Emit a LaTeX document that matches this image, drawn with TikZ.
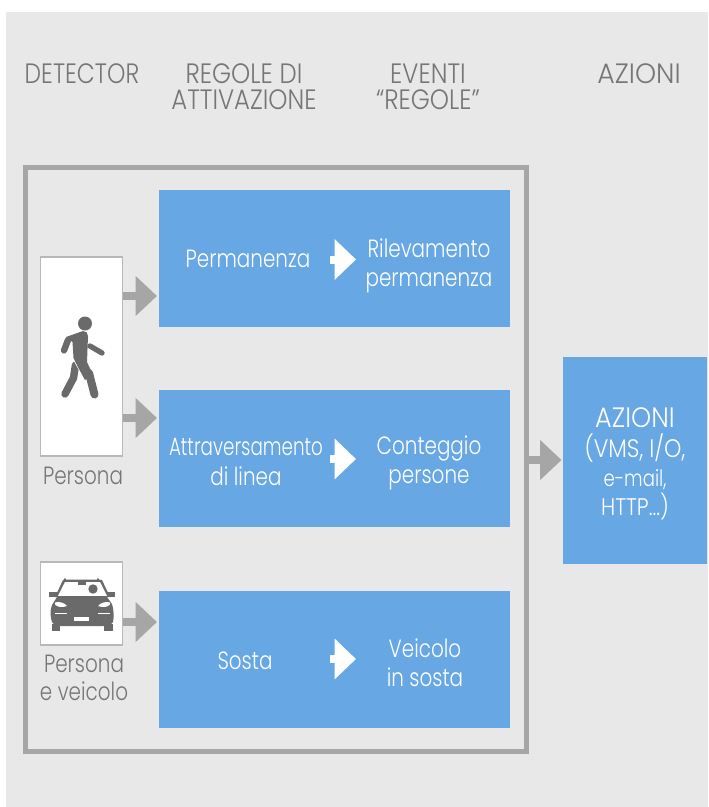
\documentclass[tikz,border=0pt]{standalone}
\usepackage{fontspec}
\setmainfont{Poppins Light}[FakeStretch=0.80]
\newfontfamily\capsf{Poppins Light}[FakeStretch=0.87]
\usetikzlibrary{arrows.meta}
\definecolor{bg}{HTML}{E8E8E8}
\definecolor{fr}{HTML}{A6A6A6}
\definecolor{bl}{HTML}{67A8E4}
\definecolor{tx}{HTML}{767676}
\definecolor{ic}{HTML}{6A6A6A}
\tikzset{
 x=0.75pt,y=-0.75pt,
 bluebox/.style={fill=bl,draw=none,inner sep=0,outer sep=0,minimum width=351*0.75pt,minimum height=137*0.75pt,anchor=north west},
 detbox/.style={fill=white,draw=fr!80,line width=1.1pt,inner sep=0,outer sep=0,anchor=north west,minimum width=82*0.75pt},
 lab/.style={text=tx,font=\fontsize{18.7}{21}\selectfont,align=center,inner sep=0},
 caplab/.style={text=tx,font=\capsf\fontsize{21}{19.5}\selectfont,align=center,inner sep=0},
 wlab/.style={text=white,font=\fontsize{18.7}{22}\selectfont,align=center,inner sep=0},
 grayarrow/.style={draw=fr,line width=5.5pt,-{Triangle[length=16pt,width=29pt]},shorten >=1.5pt},
 whitearrow/.style={draw=white,line width=6pt,-{Triangle[length=16pt,width=29.5pt]}},
 limb/.style={draw=ic,line cap=round,line join=round},
}
\begin{document}
\begin{tikzpicture}
\useasboundingbox (0,0) rectangle (708,807);
\fill[bg] (6,12) rectangle (708,807);
\node[caplab] (h1) at (82,73.5) {\scalebox{0.96}[1]{DETECTOR}};
\node[caplab] (h2) at (244,86.5) {REGOLE DI\\ATTIVAZIONE};
\node[caplab] (h3) at (428,86.5) {EVENTI\\“REGOLE”};
\node[caplab] (h4) at (639,73.5) {\scalebox{1.1}[1]{AZIONI}};
\node[draw=fr,line width=3.75pt,inner sep=0,outer sep=0,minimum width=500.5*0.75pt,minimum height=584.5*0.75pt,anchor=north west] (frame) at (25.5,167) {};
\node[bluebox] (r1) at (159,190) {};
\node[bluebox] (r2) at (159,390) {};
\node[bluebox] (r3) at (159,591) {};
\node[fill=bl,inner sep=0,outer sep=0,minimum width=144*0.75pt,minimum height=207*0.75pt,anchor=north west] (act) at (563,357) {};
\node[wlab] (actt) at (635,464) {{\capsf\fontsize{21}{22}\selectfont \scalebox{1.05}[1]{AZIONI}}\\{\capsf\fontsize{19}{22}\selectfont (VMS, I/O,}\\{\fontsize{17}{22}\selectfont e-mail,}\\{\capsf\fontsize{18}{22}\selectfont HTTP...)}};
\node[detbox,minimum height=199*0.75pt] (person) at (40.5,257) {};
\node[detbox,minimum height=83*0.75pt] (carbox) at (40.5,562) {};
\node[lab] (pl) at (83,476) {Persona};
\node[lab] (vl) at (84,678) {Persona\\e veicolo};
% text in rule boxes
\node[wlab] (a1) at (248,258.5) {Permanenza};
\node[wlab] (b1) at (429,266) {Rilevamento\\permanenza};
\node[wlab] (a2) at (246,462) {\scalebox{0.92}[1]{Attraversamento}\\di linea};
\node[wlab] (b2) at (429,463) {Conteggio\\persone};
\node[wlab] (a3) at (245,660.5) {Sosta};
\node[wlab] (b3) at (425,663) {Veicolo\\in sosta};
% arrows
\coordinate (t1) at (159,296);
\coordinate (t2) at (159,418);
\coordinate (t3) at (159,622);
\coordinate (t4) at (563.5,460);
\draw[grayarrow] (person.east |- t1) -- (t1);
\draw[grayarrow] (person.east |- t2) -- (t2);
\draw[grayarrow] (carbox.east |- t3) -- (t3);
\draw[grayarrow] (frame.east |- t4) -- (t4);
\coordinate (w1) at (330,259.5); \coordinate (x1) at (356,259.5);
\coordinate (w2) at (330,459); \coordinate (x2) at (356,459);
\coordinate (w3) at (330,659); \coordinate (x3) at (356,659);
\draw[whitearrow] (w1) -- (x1);
\draw[whitearrow] (w2) -- (x2);
\draw[whitearrow] (w3) -- (x3);
% person icon
\fill[ic] (85,323.5) circle (7);
\draw[limb,line width=5.6pt] (75.5,365) -- (73.5,378) -- (65,394);
\draw[white,line width=0.8pt] (72.5,357.5) -- (80,371);
\fill[ic] (66,337) -- (83,331) .. controls (86,331) and (88,333) .. (88,336) -- (87,362) -- (93,375) -- (85,380) -- (79,369) -- (73.5,358) -- (72.5,342) -- cycle;
\draw[limb,line width=6pt] (89,373) -- (94.5,394.5);
\draw[limb,line width=4.8pt] (68,340) -- (64,350.5);
\draw[limb,line width=4pt] (90,346) -- (102,353);
% car icon
\fill[ic] (52,605) -- (57,597) -- (107,597) -- (112,604) .. controls (114,610) and (114,618) .. (113,622) .. controls (111,625) and (107,626) .. (103,626) -- (61,626) .. controls (57,626) and (54,625) .. (52,622) .. controls (50,616) and (50,610) .. (52,605) -- cycle;
\fill[ic] (49,592) rectangle (57,596.5);
\fill[ic] (108,592) rectangle (114.5,596.5);
\fill[ic] (52,624) rectangle (60,631);
\fill[ic] (104,624) rectangle (112.5,631);
\fill[ic] (64,579.5) -- (65,577.5) -- (66,579.5) -- (97,579.5) -- (98,577.5) -- (99,579.5) -- (102,580) -- (110,597) -- (55,597) -- (63,580) -- cycle;
\fill[white] (65,582) -- (100,582) -- (107,595.8) -- (58,595.8) -- cycle;
\fill[ic] (78,582) rectangle (86,585);
\fill[ic] (93,589) circle (4.7);
\fill[white] (55,602.5) .. controls (59,601) and (65,603) .. (67,606) .. controls (62,608) and (57,607) .. (55,604.5) -- cycle;
\fill[white] (110,602.5) .. controls (106,601) and (100,603) .. (98,606) .. controls (103,608) and (108,607) .. (110,604.5) -- cycle;
\fill[white] (74,617) rectangle (89,620.5);
\fill[white] (55,612.8) rectangle (67,613.5);
\fill[white] (98,612.8) rectangle (110,613.5);
\end{tikzpicture}
\end{document}
